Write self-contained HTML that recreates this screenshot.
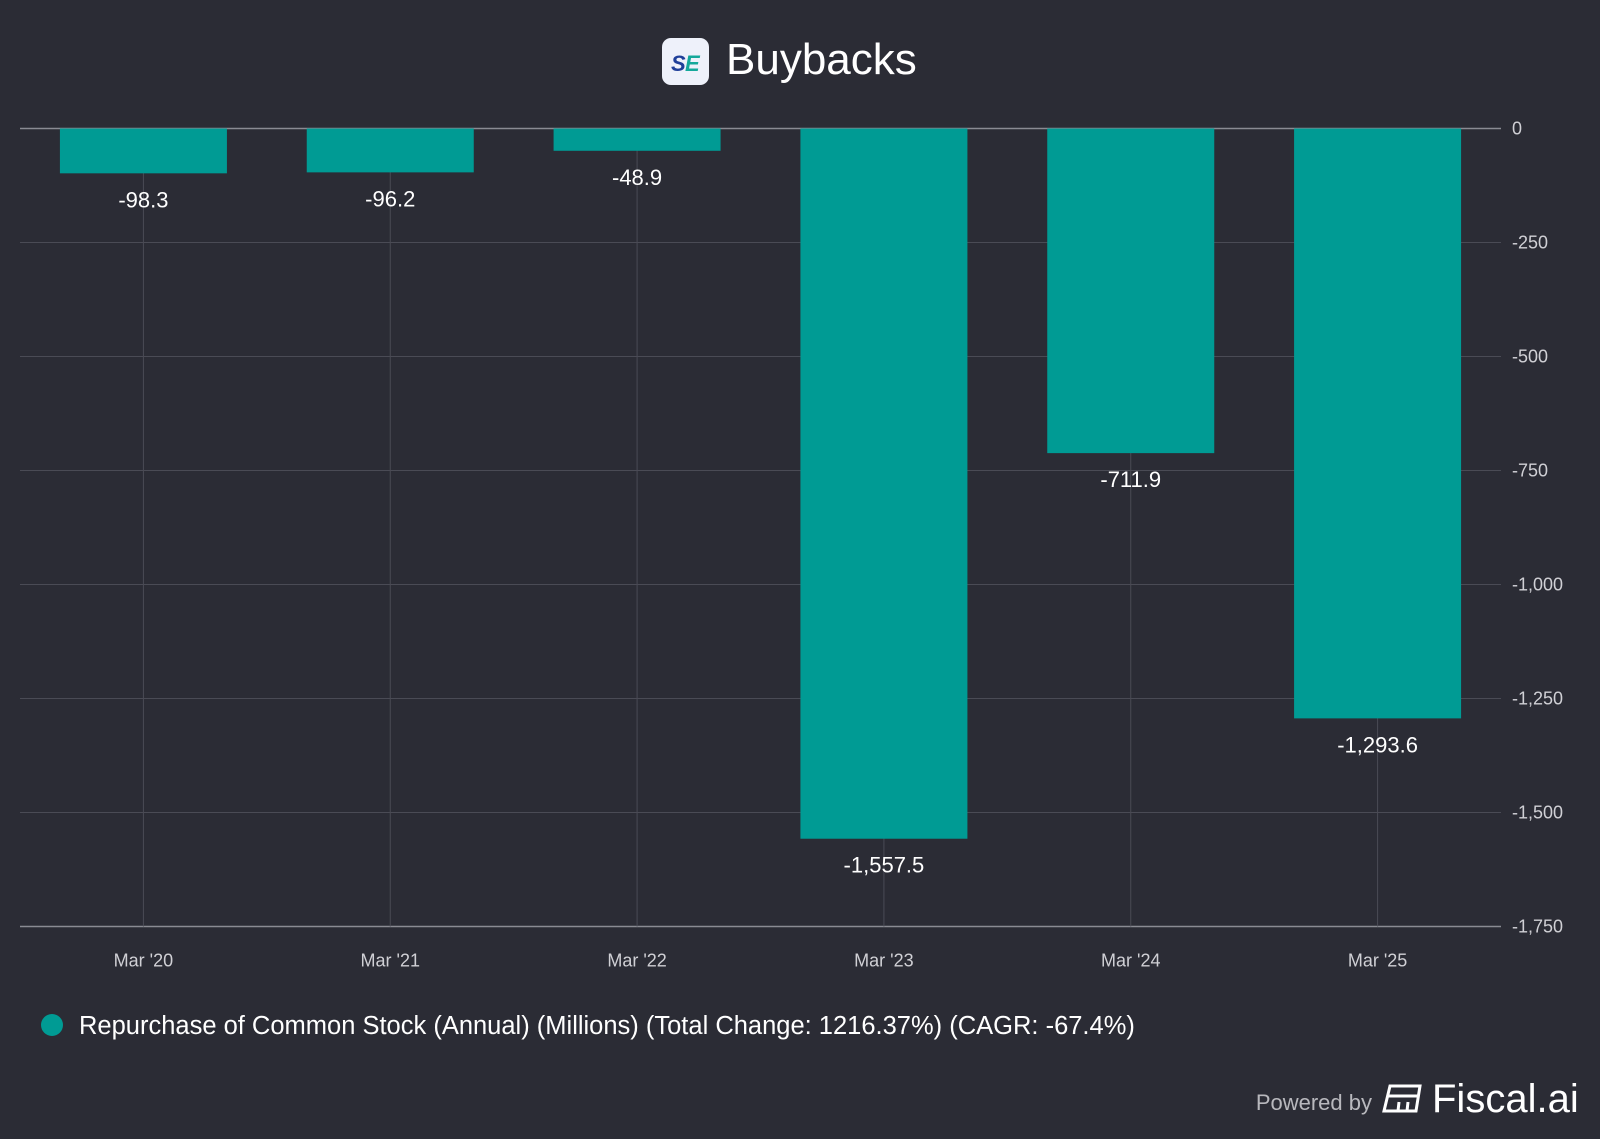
<!DOCTYPE html>
<html><head><meta charset="utf-8"><style>
html,body{margin:0;padding:0;background:#2b2c35;}
body{width:1600px;height:1134px;overflow:hidden;font-family:"Liberation Sans",Arial,sans-serif;}
</style></head><body>
<svg id="chart" width="1600" height="1134" xmlns="http://www.w3.org/2000/svg" font-family="Liberation Sans, Arial, sans-serif">
<rect width="1600" height="1134" fill="#2b2c35"/>
<g>
<rect x="662" y="38" width="47" height="47" rx="9" fill="#eef1fa"/>
<text x="671" y="71" font-size="22" font-weight="bold" font-style="italic" fill="#1f3f99">S</text>
<text x="685" y="71" font-size="22" font-weight="bold" font-style="italic" fill="#14a89a">E</text>
<text x="726" y="74" font-size="44" fill="#ffffff">Buybacks</text>
</g>
<g id="grid"></g>
<g id="bars"></g>
<g id="labels"></g>
<g>
<circle cx="52" cy="1025" r="11" fill="#009b94"/>
<text x="79" y="1034" font-size="25.5" fill="#ffffff">Repurchase of Common Stock (Annual) (Millions) (Total Change: 1216.37%) (CAGR: -67.4%)</text>
</g>
<g>
<text x="1372" y="1110" font-size="22" fill="#b8b8bd" text-anchor="end">Powered by</text>
<g stroke="#ffffff" stroke-width="3" fill="none"><path d="M1390 1086 L1420 1086 L1416 1111 L1384 1111 Z"/><path d="M1388 1096 L1418 1096 M1399 1102 L1398 1111 M1408 1102 L1407 1111"/></g>
<text x="1432" y="1112" font-size="40" fill="#ffffff">Fiscal.ai</text>
</g>
</svg>
<script>
const categories=["Mar '20","Mar '21","Mar '22","Mar '23","Mar '24","Mar '25"];
const values=[-98.3,-96.2,-48.9,-1557.5,-711.9,-1293.6];
const valueLabels=["-98.3","-96.2","-48.9","-1,557.5","-711.9","-1,293.6"];
const yTicks=[0,-250,-500,-750,-1000,-1250,-1500,-1750];
const yTickLabels=["0","-250","-500","-750","-1,000","-1,250","-1,500","-1,750"];
const NS="http://www.w3.org/2000/svg";
const L=20,R=1501,T=128.5,B=926.5,yMin=-1750,yMax=0;
const y=v=>T+(yMax-v)/(yMax-yMin)*(B-T);
const band=(R-L)/categories.length;
const x=i=>L+band*(i+0.5);
const bw=167;
function mk(tag,attrs,parent){const e=document.createElementNS(NS,tag);for(const k in attrs)e.setAttribute(k,attrs[k]);parent.appendChild(e);return e;}
const grid=document.getElementById('grid'),bars=document.getElementById('bars'),labels=document.getElementById('labels');
yTicks.forEach((t,i)=>{
 const l=mk('line',{x1:L,x2:R,y1:y(t),y2:y(t),stroke:(t===0||t===yMin)?'#8a8b93':'#4a4b55','stroke-width':(t===0||t===yMin)?1.5:1},grid);
 
 
 const tx=mk('text',{x:1512,y:y(t)+6,'font-size':18,fill:'#d0d0d5'},grid);
 tx.textContent=yTickLabels[i];
 
 
});
categories.forEach((c,i)=>{
 const l=mk('line',{x1:x(i),x2:x(i),y1:T,y2:B,stroke:'#4a4b55','stroke-width':1},grid);
 
 
 const tx=mk('text',{x:x(i),y:B+40,'font-size':18,fill:'#d0d0d5','text-anchor':'middle'},grid);
 tx.textContent=c;
 
 
 const v=values[i];
 const r=mk('rect',{x:x(i)-bw/2,y:y(0),width:bw,height:y(v)-y(0),fill:'#009b94'},bars);
 
 
 const lt=mk('text',{x:x(i),y:y(v)+34,'font-size':22,fill:'#ffffff','text-anchor':'middle'},labels);
 lt.textContent=valueLabels[i];
 
 
});
</script>
</body></html>
